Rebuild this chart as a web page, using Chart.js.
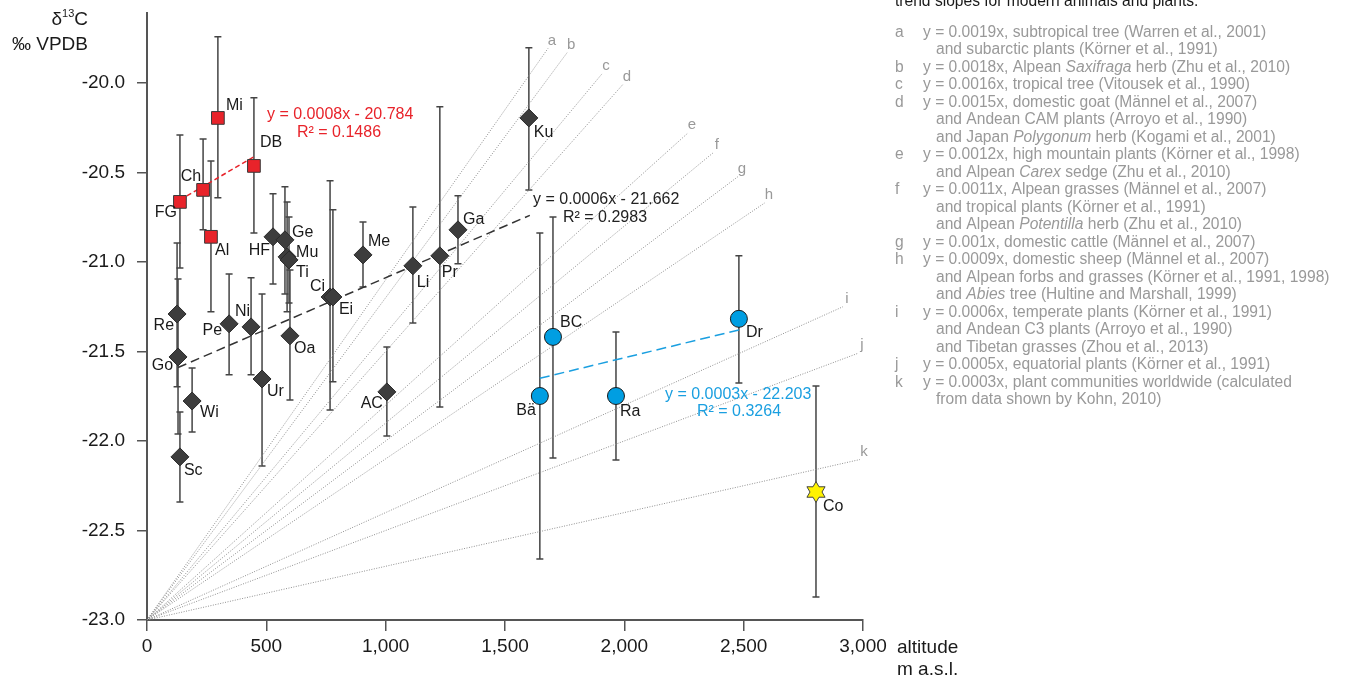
<!DOCTYPE html>
<html>
<head>
<meta charset="utf-8">
<script src="https://cdn.jsdelivr.net/npm/chart.js@4.4.1/dist/chart.umd.min.js"></script>
<style>
  body { margin: 0; background: #fff; }
  #wrap { width: 1345px; height: 681px; position: relative; }
</style>
</head>
<body>
<div id="wrap"><canvas id="chart"></canvas></div>
<script>
// modern trend slopes (from origin at 0 m, -23 permil)
const trendLetters = ['a', 'b', 'c', 'd', 'e', 'f', 'g', 'h', 'i', 'j', 'k'];
const trendSlopes = [0.0019, 0.0018, 0.0016, 0.0015, 0.0012, 0.0011, 0.001, 0.0009, 0.0006, 0.0005, 0.0003];
const trendEnds = [1680, 1760, 1906, 1994, 2266, 2371, 2476, 2589, 2916, 2979, 2987];

// red squares
const redNames = ['FG', 'Ch', 'Mi', 'Al', 'DB'];
const redAlt = [138, 235, 297, 268, 448];
const redVal = [-20.665, -20.598, -20.196, -20.860, -20.464];
const redHi = [-20.291, -20.313, -19.743, -20.436, -20.084];
const redLo = [-21.034, -20.821, -20.642, -21.279, -20.838];

// dark diamonds
const greyNames = ['Re', 'Go', 'Wi', 'Sc', 'Pe', 'Ni', 'Ur', 'HF', 'Ge', 'Mu', 'Ti', 'Oa', 'Ci', 'Ei', 'Me', 'AC', 'Li', 'Pr', 'Ga', 'Ku'];
const greyAlt = [126, 130, 189, 138, 344, 436, 482, 528, 578, 587, 595, 599, 767, 779, 905, 1005, 1114, 1227, 1303, 1600];
const greyVal = [-21.291, -21.531, -21.777, -22.089, -21.346, -21.363, -21.654, -20.860, -20.877, -20.972, -20.989, -21.413,
                 -21.196, -21.196, -20.961, -21.726, -21.022, -20.966, -20.821, -20.196];
const greyHi = [-20.894, -21.095, -21.592, -21.838, -21.067, -21.089, -21.179, -20.620, -20.581, -20.665, -20.750, -21.045,
                -20.547, -20.709, -20.777, -21.475, -20.693, -20.134, -20.631, -19.804];
const greyLo = [-21.698, -21.961, -21.950, -22.341, -21.631, -21.631, -22.140, -21.123, -21.179, -21.279, -21.230, -21.771,
                -21.827, -21.670, -21.140, -21.972, -21.341, -21.810, -21.011, -20.598];

// blue circles
const blueNames = ['Bä', 'BC', 'Ra', 'Dr'];
const blueAlt = [1646, 1701, 1965, 2480];
const blueVal = [-21.749, -21.419, -21.749, -21.318];
const blueHi = [-20.838, -20.749, -21.391, -20.966];
const blueLo = [-22.659, -22.095, -22.106, -21.676];

// star
const starNames = ['Co'];
const starAlt = [2803];
const starVal = [-22.285];
const starHi = [-21.693];
const starLo = [-22.871];

// regression lines (drawn end points)
const redFit = [[138, -20.654], [448, -20.413]];
const greyFit = [[130, -21.59], [1604, -20.74]];
const blueFit = [[1646, -21.65], [2480, -21.38]];

const xTicks = [0, 500, 1000, 1500, 2000, 2500, 3000];
const yTicks = [-23.0, -22.5, -22.0, -21.5, -21.0, -20.5, -20.0];

const legendTitle = 'trend slopes for modern animals and plants:';
const legendRows = [
    ['a', 'y = 0.0019x, subtropical tree (Warren et al., 2001)'],
    ['', 'and subarctic plants (Körner et al., 1991)'],
    ['b', 'y = 0.0018x, Alpean *Saxifraga* herb (Zhu et al., 2010)'],
    ['c', 'y = 0.0016x, tropical tree (Vitousek et al., 1990)'],
    ['d', 'y = 0.0015x, domestic goat (Männel et al., 2007)'],
    ['', 'and Andean CAM plants (Arroyo et al., 1990)'],
    ['', 'and Japan *Polygonum* herb (Kogami et al., 2001)'],
    ['e', 'y = 0.0012x, high mountain plants (Körner et al., 1998)'],
    ['', 'and Alpean *Carex* sedge (Zhu et al., 2010)'],
    ['f', 'y = 0.0011x, Alpean grasses (Männel et al., 2007)'],
    ['', 'and tropical plants (Körner et al., 1991)'],
    ['', 'and Alpean *Potentilla* herb (Zhu et al., 2010)'],
    ['g', 'y = 0.001x, domestic cattle (Männel et al., 2007)'],
    ['h', 'y = 0.0009x, domestic sheep (Männel et al., 2007)'],
    ['', 'and Alpean forbs and grasses (Körner et al., 1991, 1998)'],
    ['', 'and *Abies* tree (Hultine and Marshall, 1999)'],
    ['i', 'y = 0.0006x, temperate plants (Körner et al., 1991)'],
    ['', 'and Andean C3 plants (Arroyo et al., 1990)'],
    ['', 'and Tibetan grasses (Zhou et al., 2013)'],
    ['j', 'y = 0.0005x, equatorial plants (Körner et al., 1991)'],
    ['k', 'y = 0.0003x, plant communities worldwide (calculated'],
    ['', 'from data shown by Kohn, 2010)']
];

// label placement next to each marker: [dx, dy, align]
const labelOffsets = {
    FG: [-3, 11, 'right'], Ch: [-2, -13, 'right'], Mi: [8, -12, 'left'], Al: [4, 14, 'left'], DB: [6, -23, 'left'],
    Re: [-3, 12, 'right'], Go: [-5, 9, 'right'], Wi: [8, 12, 'left'], Sc: [4, 14, 'left'], Pe: [-7, 7, 'right'],
    Ni: [-1, -15, 'right'], Ur: [5, 13, 'left'], HF: [-3, 14, 'right'], Ge: [7, -7, 'left'], Mu: [9, -4, 'left'],
    Ti: [7, 13, 'left'], Oa: [4, 13, 'left'], Ci: [-5, -10, 'right'], Ei: [6, 13, 'left'], Me: [5, -13, 'left'],
    AC: [-4, 12, 'right'], Li: [4, 17, 'left'], Pr: [2, 17, 'left'], Ga: [5, -10, 'left'], Ku: [5, 15, 'left'],
    'Bä': [-4, 15, 'right'], BC: [7, -14, 'left'], Ra: [4, 16, 'left'], Dr: [7, 14, 'left'], Co: [7, 15, 'left']
};

const FONT = 'Arial, "Liberation Sans", sans-serif';

function toPoints(xs, ys) {
    return xs.map((x, i) => ({ x: x, y: ys[i] }));
}

// six pointed yellow star for Co
function makeStar() {
    const c = document.createElement('canvas');
    c.width = 24; c.height = 24;
    const g = c.getContext('2d');
    g.beginPath();
    for (let i = 0; i < 12; i++) {
        const r = i % 2 === 0 ? 10.5 : 6;
        const a = -Math.PI / 2 + i * Math.PI / 6;
        const px = 12 + r * Math.cos(a), py = 12 + r * Math.sin(a);
        if (i === 0) g.moveTo(px, py); else g.lineTo(px, py);
    }
    g.closePath();
    g.fillStyle = '#fff200';
    g.fill();
    g.strokeStyle = '#444';
    g.lineWidth = 1;
    g.stroke();
    return c;
}

const pointSets = [
    { label: 'red', names: redNames, data: toPoints(redAlt, redVal), hi: redHi, lo: redLo,
      pointStyle: 'rect', pointRadius: 9, backgroundColor: '#e8232a', borderColor: '#3a3a3a', borderWidth: 1 },
    { label: 'grey', names: greyNames, data: toPoints(greyAlt, greyVal), hi: greyHi, lo: greyLo,
      pointStyle: 'rectRot', pointRadius: 9, backgroundColor: '#3d3d3d', borderColor: '#2a2a2a', borderWidth: 1 },
    { label: 'blue', names: blueNames, data: toPoints(blueAlt, blueVal), hi: blueHi, lo: blueLo,
      pointStyle: 'circle', pointRadius: 8.5, backgroundColor: '#009ee2', borderColor: '#1a1a1a', borderWidth: 1 },
    { label: 'star', names: starNames, data: toPoints(starAlt, starVal), hi: starHi, lo: starLo,
      pointStyle: makeStar(), pointRadius: 10 }
];
pointSets.forEach(ds => { ds.type = 'scatter'; ds.order = 0; ds.pointHoverRadius = ds.pointRadius; });

const fitSets = [
    { data: redFit, color: '#e8232a', dash: [5, 3] },
    { data: greyFit, color: '#333333', dash: [9, 5] },
    { data: blueFit, color: '#1a9fe0', dash: [10, 5] }
].map(f => ({
    type: 'line', label: 'fit', data: f.data.map(p => ({ x: p[0], y: p[1] })),
    borderColor: f.color, borderDash: f.dash, borderWidth: 1.5, pointRadius: 0, fill: false, order: 1
}));

const slopeSets = trendLetters.map((l, i) => ({
    type: 'line', label: 'slope ' + l,
    data: [{ x: 0, y: -23 }, { x: trendEnds[i], y: -23 + trendSlopes[i] * trendEnds[i] }],
    borderColor: '#8f8f8f', borderDash: [1, 1.5], borderWidth: 1, pointRadius: 0, fill: false, order: 2
}));

function drawRich(ctx, text, x, y, size, color) {
    const parts = text.split('*');
    let cx = x;
    ctx.fillStyle = color;
    parts.forEach((p, i) => {
        ctx.font = (i % 2 === 1 ? 'italic ' : '') + size + 'px ' + FONT;
        ctx.fillText(p, cx, y);
        cx += ctx.measureText(p).width;
    });
}

const errorBars = {
    id: 'errorBars',
    beforeDatasetsDraw(chart) {
        const ctx = chart.ctx, xs = chart.scales.x, ys = chart.scales.y;
        ctx.save();
        ctx.strokeStyle = '#444';
        ctx.lineWidth = 1.5;
        chart.data.datasets.forEach(ds => {
            if (!ds.hi) return;
            ds.data.forEach((p, i) => {
                const px = xs.getPixelForValue(p.x);
                const top = ys.getPixelForValue(ds.hi[i]);
                const bot = ys.getPixelForValue(ds.lo[i]);
                ctx.beginPath();
                ctx.moveTo(px, top); ctx.lineTo(px, bot);
                ctx.moveTo(px - 3.5, top); ctx.lineTo(px + 3.5, top);
                ctx.moveTo(px - 3.5, bot); ctx.lineTo(px + 3.5, bot);
                ctx.stroke();
            });
        });
        ctx.restore();
    }
};

const annotations = {
    id: 'annotations',
    afterDraw(chart) {
        const ctx = chart.ctx, xs = chart.scales.x, ys = chart.scales.y;
        ctx.save();
        ctx.textBaseline = 'middle';

        // slope letters
        ctx.font = '15px ' + FONT;
        ctx.fillStyle = '#999';
        ctx.textAlign = 'center';
        trendLetters.forEach((l, i) => {
            const px = xs.getPixelForValue(trendEnds[i]);
            const py = ys.getPixelForValue(-23 + trendSlopes[i] * trendEnds[i]);
            ctx.fillText(l, px + 4, py - 8);
        });

        // marker labels
        ctx.font = '16px ' + FONT;
        ctx.fillStyle = '#1a1a1a';
        chart.data.datasets.forEach(ds => {
            if (!ds.names) return;
            ds.data.forEach((p, i) => {
                const o = labelOffsets[ds.names[i]];
                ctx.textAlign = o[2];
                ctx.fillText(ds.names[i], xs.getPixelForValue(p.x) + o[0], ys.getPixelForValue(p.y) + o[1]);
            });
        });

        // regression equations
        ctx.font = '16px ' + FONT;
        ctx.textAlign = 'left';
        ctx.fillStyle = '#e8232a';
        ctx.fillText('y = 0.0008x - 20.784', 267, 115);
        ctx.fillText('R² = 0.1486', 297, 133);
        ctx.fillStyle = '#222';
        ctx.fillText('y = 0.0006x - 21.662', 533, 200);
        ctx.fillText('R² = 0.2983', 563, 218);
        ctx.fillStyle = '#1a9fe0';
        ctx.fillText('y = 0.0003x - 22.203', 665, 395);
        ctx.fillText('R² = 0.3264', 697, 412);

        // axis titles
        ctx.fillStyle = '#1a1a1a';
        ctx.font = '19px ' + FONT;
        ctx.textAlign = 'right';
        ctx.fillText('C', 88, 20);
        const cW = ctx.measureText('C').width;
        ctx.font = '11px ' + FONT;
        ctx.fillText('13', 88 - cW, 14);
        const sW = ctx.measureText('13').width;
        ctx.font = '19px ' + FONT;
        ctx.fillText('δ', 88 - cW - sW, 20);
        ctx.fillText('‰ VPDB', 88, 45);
        ctx.textAlign = 'left';
        ctx.fillText('altitude', 897, 648);
        ctx.fillText('m a.s.l.', 897, 670);

        // legend of slopes
        ctx.textAlign = 'left';
        drawRich(ctx, legendTitle, 895, 2, 15.6, '#1a1a1a');
        legendRows.forEach((r, i) => {
            const y = 32.3 + i * 17.5;
            if (r[0]) {
                drawRich(ctx, r[0], 895, y, 15.6, '#999');
                drawRich(ctx, r[1], 923, y, 15.6, '#999');
            } else {
                drawRich(ctx, r[1], 936, y, 15.6, '#999');
            }
        });
        ctx.restore();
    }
};

new Chart(document.getElementById('chart'), {
    type: 'scatter',
    data: { datasets: [...pointSets, ...fitSets, ...slopeSets] },
    options: {
        responsive: true,
        maintainAspectRatio: false,
        animation: false,
        layout: { padding: { top: 13, right: 482, left: 0, bottom: 0 } },
        plugins: { legend: { display: false }, tooltip: { enabled: false } },
        scales: {
            x: {
                type: 'linear', min: 0, max: 3000,
                afterFit: s => { s.height = 61; s.paddingLeft = 0; s.paddingRight = 0; },
                afterBuildTicks: s => { s.ticks = xTicks.map(v => ({ value: v })); },
                border: { color: '#555', width: 2 },
                grid: { drawOnChartArea: false, drawTicks: true, tickLength: 11, color: '#555', lineWidth: 1.5 },
                ticks: {
                    padding: 4, color: '#1a1a1a', font: { family: FONT, size: 19 },
                    maxRotation: 0, autoSkip: false,
                    callback: v => v.toLocaleString('en-US')
                }
            },
            y: {
                type: 'linear', min: -23, max: -19.61,
                afterFit: s => { s.width = 147; s.paddingTop = 0; s.paddingBottom = 0; },
                afterBuildTicks: s => { s.ticks = yTicks.map(v => ({ value: v })); },
                border: { color: '#555', width: 2 },
                grid: { drawOnChartArea: false, drawTicks: true, tickLength: 10, color: '#555', lineWidth: 1.5 },
                ticks: {
                    padding: 12, color: '#1a1a1a', font: { family: FONT, size: 19 }, autoSkip: false,
                    callback: v => v.toFixed(1)
                }
            }
        }
    },
    plugins: [errorBars, annotations]
});
</script>
</body>
</html>
